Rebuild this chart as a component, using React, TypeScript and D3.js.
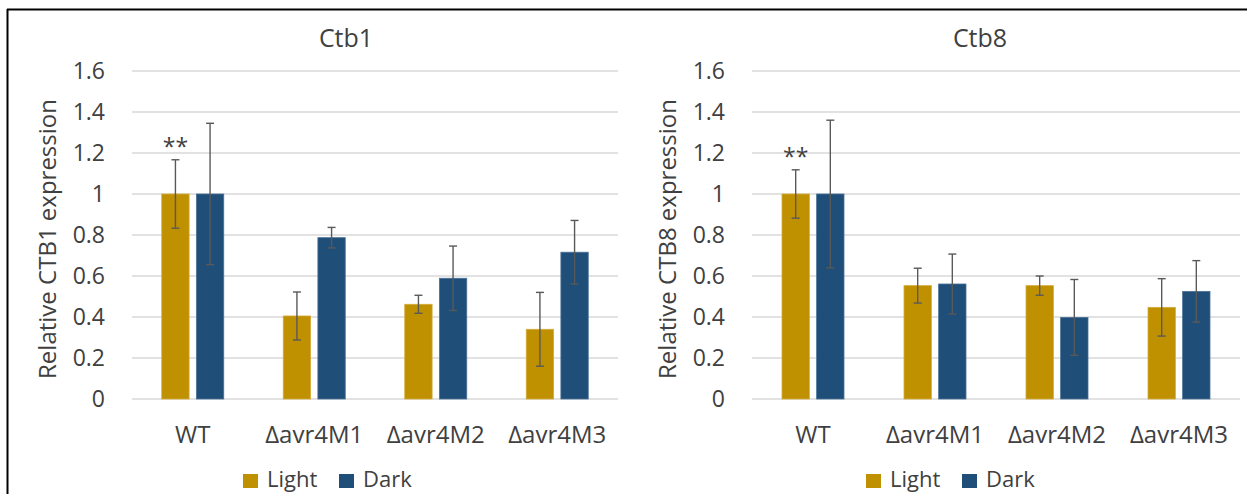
import React from "react";
import * as d3 from "d3";

const categories = ["WT", "Δavr4M1", "Δavr4M2", "Δavr4M3"];
const seriesNames = ["Light", "Dark"];
const colors = ["#BF9000", "#1F4E79"];
const yTicks = [0, 0.2, 0.4, 0.6, 0.8, 1, 1.2, 1.4, 1.6];

const ctb1Light = [1.0, 0.405, 0.462, 0.34];
const ctb1LightErr = [0.167, 0.117, 0.044, 0.18];
const ctb1Dark = [1.0, 0.787, 0.589, 0.716];
const ctb1DarkErr = [0.345, 0.05, 0.157, 0.155];

const ctb8Light = [1.0, 0.553, 0.553, 0.447];
const ctb8LightErr = [0.118, 0.085, 0.047, 0.14];
const ctb8Dark = [1.0, 0.561, 0.398, 0.525];
const ctb8DarkErr = [0.36, 0.146, 0.185, 0.15];

const panels = [
  { title: "Ctb1", yLabel: "Relative CTB1 expression", light: ctb1Light, lightErr: ctb1LightErr, dark: ctb1Dark, darkErr: ctb1DarkErr, x0: 132, x1: 618, titleX: 346, yLabelX: 56, legendX: 243 },
  { title: "Ctb8", yLabel: "Relative CTB8 expression", light: ctb8Light, lightErr: ctb8LightErr, dark: ctb8Dark, darkErr: ctb8DarkErr, x0: 752, x1: 1240, titleX: 980, yLabelX: 676, legendX: 866 },
];

const FONT = "'Open Sans', 'Segoe UI', sans-serif";
const TEXT = "#404040";

function Panel({ p }: { p: typeof panels[number] }) {
  const y = d3.scaleLinear().domain([0, 1.6]).range([399, 71]);
  const x = d3.scaleBand().domain(categories).range([p.x0, p.x1]).padding(0);
  const groupW = 62;
  const bw = x.bandwidth();
  const xs = d3.scaleBand().domain(seriesNames).range([(bw - groupW) / 2, (bw + groupW) / 2]).paddingInner(0.21);
  const values = [p.light, p.dark];
  const errs = [p.lightErr, p.darkErr];
  return (
    <g>
      <text x={p.titleX} y={47} textAnchor="middle" fontSize={25} fill={TEXT} fontFamily={FONT}>{p.title}</text>
      {yTicks.map((t) => (
        <g key={t}>
          <line x1={p.x0} x2={p.x1} y1={y(t)} y2={y(t)} stroke="#d9d9d9" strokeWidth={1.3} />
          <text x={p.x0 - 27} y={y(t)} dy="0.36em" textAnchor="end" fontSize={23} fill={TEXT} fontFamily={FONT}>{d3.format("")(t)}</text>
        </g>
      ))}
      <text transform={`translate(${p.yLabelX},${(y(0) + y(1.6)) / 2 + 4}) rotate(-90)`} textAnchor="middle" fontSize={24} fill={TEXT} fontFamily={FONT}>{p.yLabel}</text>
      {categories.map((c, i) => (
        <g key={c}>
          {seriesNames.map((s, j) => {
            const bx = (x(c) as number) + (xs(s) as number);
            const v = values[j][i];
            const e = errs[j][i];
            const mx = bx + xs.bandwidth() / 2;
            return (
              <g key={s}>
                <rect x={bx} y={y(v)} width={xs.bandwidth()} height={y(0) - y(v)} fill={colors[j]} stroke={j === 0 ? "#d4ab3a" : "#4a7196"} strokeWidth={0.8} />
                <line x1={mx} x2={mx} y1={y(v + e)} y2={y(v - e)} stroke="#595959" strokeWidth={1.4} />
                <line x1={mx - 4} x2={mx + 4} y1={y(v + e)} y2={y(v + e)} stroke="#595959" strokeWidth={1.4} />
                <line x1={mx - 4} x2={mx + 4} y1={y(v - e)} y2={y(v - e)} stroke="#595959" strokeWidth={1.4} />
                {i === 0 && j === 0 && (
                  <text x={mx} y={y(v + e) - 5} textAnchor="middle" fontSize={23} fill={TEXT} fontFamily={FONT}>**</text>
                )}
              </g>
            );
          })}
          <text x={(x(c) as number) + bw / 2} y={443} textAnchor="middle" fontSize={24} fill={TEXT} fontFamily={FONT}>{c}</text>
        </g>
      ))}
      {seriesNames.map((s, j) => (
        <g key={s} transform={`translate(${p.legendX + j * 96},0)`}>
          <rect x={0} y={474} width={15} height={14} fill={colors[j]} />
          <text x={24} y={487} fontSize={22} fill={TEXT} fontFamily={FONT}>{s}</text>
        </g>
      ))}
    </g>
  );
}

export default function App() {
  return (
    <svg width={1247} height={494} style={{ position: "absolute", left: 0, top: 0, background: "#fff" }}>
      <rect x={0} y={0} width={1247} height={494} fill="#fff" />
      <line x1={7} x2={1247} y1={9.5} y2={9.5} stroke="#000" strokeWidth={2} />
      <line x1={7.5} x2={7.5} y1={9} y2={494} stroke="#000" strokeWidth={2} />
      {panels.map((p) => (
        <Panel key={p.title} p={p} />
      ))}
    </svg>
  );
}
